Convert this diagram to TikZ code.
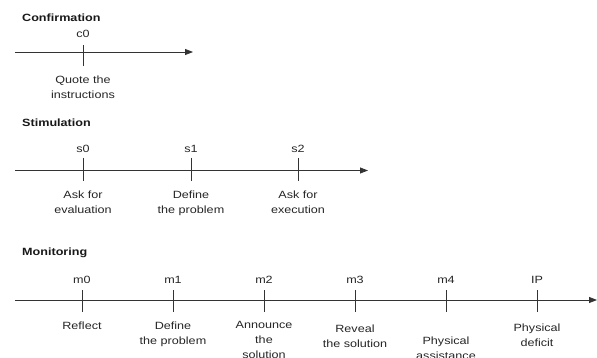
\documentclass[tikz,border=0pt]{standalone}
\usepackage{fontspec}
\setmainfont[FakeStretch=1.2]{Liberation Sans}
\usetikzlibrary{arrows.meta}

\begin{document}
\begin{tikzpicture}[
    x=1pt, y=-1pt,
    axisline/.style={-{Triangle[length=8pt,width=6pt]}, line width=0.8pt, draw=black!80},
    tickmark/.style={line width=0.8pt, draw=black!80},
    eventlabel/.style={anchor=base, inner sep=0pt, font=\fontsize{10.5}{15}\selectfont, text=black!85},
    actionlabel/.style={anchor=north, inner sep=0pt, align=center, font=\fontsize{10.5}{15}\selectfont, text=black!85},
    phasetitle/.style={anchor=base west, inner sep=0pt, font=\fontsize{10.5}{15}\selectfont\bfseries, text=black!90}
]
\clip (0,0) rectangle (597,358);

% --- Confirmation ---
\node[phasetitle] (conf) at (22,22) {Confirmation};
\coordinate (c-start) at (15,52);
\coordinate (c-end) at (193,52);
\draw[axisline] (c-start) -- (c-end);
\coordinate (c0-top) at (83,45);
\coordinate (c0-bot) at (83,66);
\draw[tickmark] (c0-top) -- (c0-bot);
\node[eventlabel] (c0) at (83,38) {c0};
\node[actionlabel] (c0-act) at (83,75.3) {Quote the\\instructions};

% --- Stimulation ---
\node[phasetitle] (stim) at (22,127) {Stimulation};
\coordinate (s-start) at (15,170.5);
\coordinate (s-end) at (368,170.5);
\draw[axisline] (s-start) -- (s-end);
\foreach \x/\name in {83/s0, 191/s1, 298/s2} {
    \coordinate (\name-top) at (\x,158);
    \coordinate (\name-bot) at (\x,181);
    \draw[tickmark] (\name-top) -- (\name-bot);
    \node[eventlabel] (\name) at (\x,153) {\name};
}
\node[actionlabel] (s0-act) at (83,190.3) {Ask for\\evaluation};
\node[actionlabel] (s1-act) at (191,190.3) {Define\\the problem};
\node[actionlabel] (s2-act) at (298,190.3) {Ask for\\execution};

% --- Monitoring ---
\node[phasetitle] (moni) at (22,255) {Monitoring};
\coordinate (m-start) at (15,300);
\coordinate (m-end) at (597,300);
\draw[axisline] (m-start) -- (m-end);
\foreach \x/\name/\lab in {82/m0/m0, 173/m1/m1, 264/m2/m2, 355/m3/m3, 446/m4/m4, 537/ip/IP} {
    \coordinate (\name-top) at (\x,290);
    \coordinate (\name-bot) at (\x,312);
    \draw[tickmark] (\name-top) -- (\name-bot);
    \node[eventlabel] (\name) at (\x,283) {\lab};
}
\node[actionlabel] (m0-act) at (82,321.3) {Reflect};
\node[actionlabel] (m1-act) at (173,321.3) {Define\\the problem};
\node[actionlabel] (m2-act) at (264,321.3) {Announce\\the\\solution};
\node[actionlabel] (m3-act) at (355,324.3) {Reveal\\the solution};
\node[actionlabel] (m4-act) at (446,336.3) {Physical\\assistance};
\node[actionlabel] (ip-act) at (537,323.3) {Physical\\deficit};

\end{tikzpicture}
\end{document}
